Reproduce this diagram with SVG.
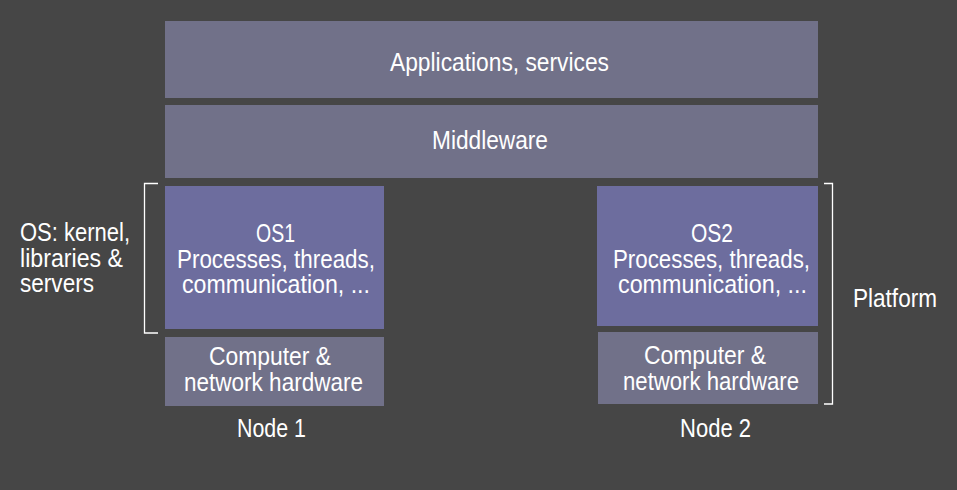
<svg xmlns="http://www.w3.org/2000/svg" width="957" height="490" viewBox="0 0 957 490">
<style>
.t{font-family:"Liberation Sans",Arial,sans-serif;font-size:25px;fill:#ffffff}
.c{text-anchor:middle}
.layer{fill:#717189}
.os{fill:#6d6d9e}
.br{fill:none;stroke:#ffffff;stroke-width:1.3}
</style>
<rect width="957" height="490" fill="#464646"/>
<g id="applications">
<rect class="layer" x="165" y="21" width="653" height="77"/>
<text class="t" x="390" y="71" textLength="219" lengthAdjust="spacingAndGlyphs">Applications, services</text>
</g>
<g id="middleware">
<rect class="layer" x="165" y="105" width="653" height="73"/>
<text class="t" x="432" y="149" textLength="116" lengthAdjust="spacingAndGlyphs">Middleware</text>
</g>
<g id="os1">
<rect class="os" x="165" y="186" width="219" height="143"/>
<text class="t" x="256" y="242" textLength="39" lengthAdjust="spacingAndGlyphs">OS1</text>
<text class="t" x="177" y="268" textLength="198" lengthAdjust="spacingAndGlyphs">Processes, threads,</text>
<text class="t" x="182" y="293" textLength="188" lengthAdjust="spacingAndGlyphs">communication, ...</text>
</g>
<g id="hw1">
<rect class="layer" x="165" y="337" width="219" height="69"/>
<text class="t" x="209" y="365" textLength="122" lengthAdjust="spacingAndGlyphs">Computer &amp;</text>
<text class="t" x="184" y="391" textLength="179" lengthAdjust="spacingAndGlyphs">network hardware</text>
</g>
<g id="os2">
<rect class="os" x="597" y="186" width="221" height="140"/>
<text class="t" x="691" y="242" textLength="42" lengthAdjust="spacingAndGlyphs">OS2</text>
<text class="t" x="613" y="268" textLength="197" lengthAdjust="spacingAndGlyphs">Processes, threads,</text>
<text class="t" x="618" y="293" textLength="189" lengthAdjust="spacingAndGlyphs">communication, ...</text>
</g>
<g id="hw2">
<rect class="layer" x="598" y="332" width="220" height="72"/>
<text class="t" x="644" y="364" textLength="122" lengthAdjust="spacingAndGlyphs">Computer &amp;</text>
<text class="t" x="623" y="390" textLength="176" lengthAdjust="spacingAndGlyphs">network hardware</text>
</g>
<g id="labels">
<text class="t" x="237" y="437" textLength="69" lengthAdjust="spacingAndGlyphs">Node 1</text>
<text class="t" x="680" y="437" textLength="71" lengthAdjust="spacingAndGlyphs">Node 2</text>
<text class="t" x="20" y="241" textLength="110" lengthAdjust="spacingAndGlyphs">OS: kernel,</text>
<text class="t" x="20" y="267" textLength="103" lengthAdjust="spacingAndGlyphs">libraries &amp;</text>
<text class="t" x="20" y="292" textLength="74" lengthAdjust="spacingAndGlyphs">servers</text>
<text class="t" x="853" y="307" textLength="84" lengthAdjust="spacingAndGlyphs">Platform</text>
</g>
<g id="connectors">
<path class="br" d="M158,183.5 H144.5 V333 H158"/>
<path class="br" d="M824,183.5 H832.5 V404 H824"/>
</g>
</svg>
